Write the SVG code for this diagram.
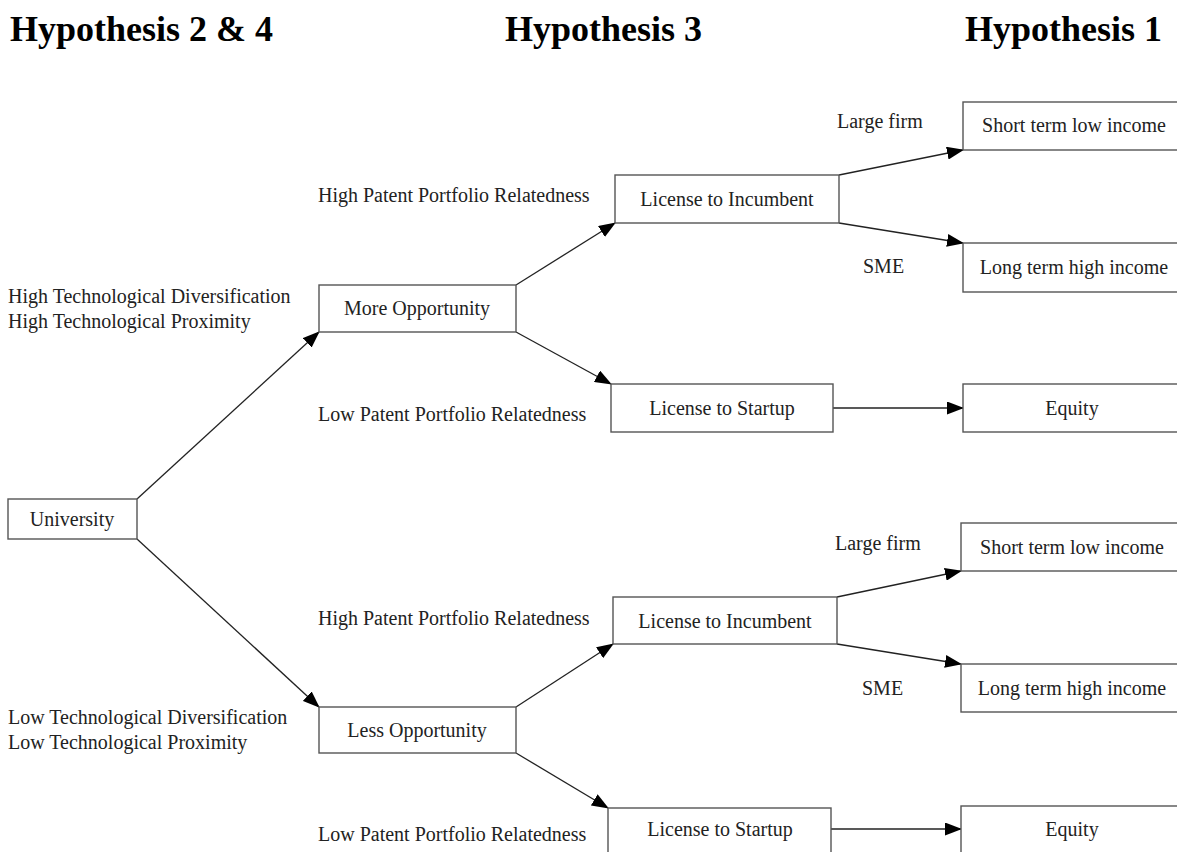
<svg xmlns="http://www.w3.org/2000/svg" width="1177" height="852" viewBox="0 0 1177 852">
<defs>
<marker id="ah" markerWidth="17" markerHeight="13" refX="16" refY="6.5" orient="auto" markerUnits="userSpaceOnUse">
<path d="M0,0 L17,6.5 L0,13 z" fill="#000"/>
</marker>
<style>
.box{fill:#fff;stroke:#555;stroke-width:1.4}
.t{font-family:"Liberation Serif","Times New Roman",serif;font-size:20px;fill:#222}
.c{text-anchor:middle}
.h{font-family:"Liberation Serif","Times New Roman",serif;font-size:36px;font-weight:bold;fill:#000}
.e{fill:none;stroke:#222;stroke-width:1.3;marker-end:url(#ah)}
</style>
</defs>
<rect width="1177" height="852" fill="#fff"/>
<g id="titles">
<text class="h" x="10" y="41">Hypothesis 2 &amp; 4</text>
<text class="h" x="505" y="41">Hypothesis 3</text>
<text class="h" x="965" y="41">Hypothesis 1</text>
</g>
<g id="connectors">
<line class="e" x1="137" y1="499" x2="319" y2="332"/>
<line class="e" x1="137" y1="539" x2="319" y2="707"/>
<line class="e" x1="516" y1="285" x2="615" y2="223"/>
<line class="e" x1="516" y1="332" x2="611" y2="384"/>
<line class="e" x1="839" y1="175" x2="963" y2="150"/>
<line class="e" x1="839" y1="223" x2="963" y2="243"/>
<line class="e" x1="833" y1="408" x2="963" y2="408"/>
<line class="e" x1="516" y1="707" x2="613" y2="644"/>
<line class="e" x1="516" y1="753" x2="608" y2="808"/>
<line class="e" x1="837" y1="597" x2="961" y2="571"/>
<line class="e" x1="837" y1="644" x2="961" y2="664"/>
<line class="e" x1="831" y1="829" x2="961" y2="829"/>
</g>
<g id="labels">
<text class="t" x="8" y="303">High Technological Diversification</text>
<text class="t" x="8" y="328">High Technological Proximity</text>
<text class="t" x="8" y="724">Low Technological Diversification</text>
<text class="t" x="8" y="749">Low Technological Proximity</text>
<text class="t" x="318" y="202">High Patent Portfolio Relatedness</text>
<text class="t" x="318" y="421">Low Patent Portfolio Relatedness</text>
<text class="t" x="318" y="625">High Patent Portfolio Relatedness</text>
<text class="t" x="318" y="841">Low Patent Portfolio Relatedness</text>
<text class="t" x="837" y="128">Large firm</text>
<text class="t" x="863" y="273">SME</text>
<text class="t" x="835" y="550">Large firm</text>
<text class="t" x="862" y="695">SME</text>
</g>
<g id="university"><rect class="box" x="8" y="499" width="129" height="40"/><text class="t c" x="72" y="526">University</text></g>
<g id="more-opportunity"><rect class="box" x="319" y="285" width="197" height="47"/><text class="t c" x="417" y="315">More Opportunity</text></g>
<g id="less-opportunity"><rect class="box" x="319" y="707" width="197" height="46"/><text class="t c" x="417" y="737">Less Opportunity</text></g>
<g id="license-incumbent-1"><rect class="box" x="615" y="175" width="224" height="48"/><text class="t c" x="727" y="206">License to Incumbent</text></g>
<g id="license-startup-1"><rect class="box" x="611" y="384" width="222" height="48"/><text class="t c" x="722" y="415">License to Startup</text></g>
<g id="license-incumbent-2"><rect class="box" x="613" y="597" width="224" height="47"/><text class="t c" x="725" y="628">License to Incumbent</text></g>
<g id="license-startup-2"><rect class="box" x="608" y="808" width="223" height="60"/><text class="t c" x="720" y="836">License to Startup</text></g>
<g id="short-term-1"><rect class="box" x="963" y="102" width="230" height="48"/><text class="t c" x="1074" y="132">Short term low income</text></g>
<g id="long-term-1"><rect class="box" x="963" y="243" width="230" height="49"/><text class="t c" x="1074" y="274">Long term high income</text></g>
<g id="equity-1"><rect class="box" x="963" y="384" width="230" height="48"/><text class="t c" x="1072" y="415">Equity</text></g>
<g id="short-term-2"><rect class="box" x="961" y="523" width="230" height="48"/><text class="t c" x="1072" y="554">Short term low income</text></g>
<g id="long-term-2"><rect class="box" x="961" y="664" width="230" height="48"/><text class="t c" x="1072" y="695">Long term high income</text></g>
<g id="equity-2"><rect class="box" x="961" y="806" width="230" height="60"/><text class="t c" x="1072" y="836">Equity</text></g>
</svg>
